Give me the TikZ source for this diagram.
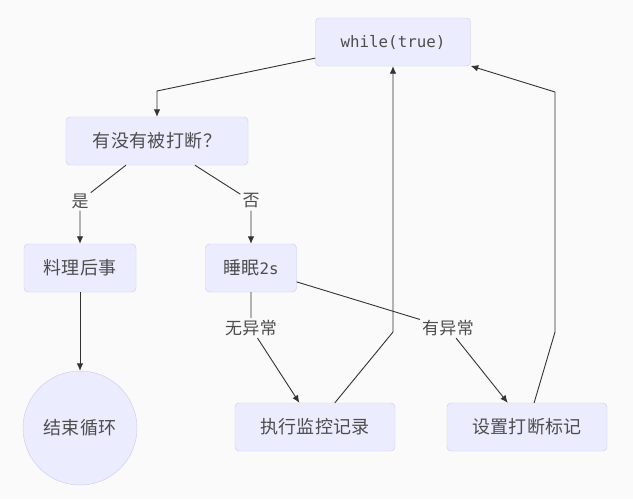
\documentclass[tikz,border=0pt]{standalone}
\usepackage{fontspec}
\setmonofont{DejaVu Sans Mono}
\newfontfamily\cjk{Noto Sans CJK SC}[LetterSpace=2]
\usetikzlibrary{arrows.meta}
\definecolor{boxfill}{HTML}{ECECFF}
\definecolor{boxline}{HTML}{C8C8F2}
\definecolor{ink}{HTML}{333333}
\definecolor{textink}{HTML}{4D4D4D}
\definecolor{paper}{HTML}{FAFAFA}
\newcommand\codetext[1]{{\ttfamily\fontsize{15.8}{18}\selectfont #1}}
\tikzset{
  box/.style={draw=boxline, fill=boxfill, rounded corners=4pt, text=textink,
    font=\cjk\fontsize{18}{21}\selectfont, minimum height=48pt, inner sep=0pt},
  tag/.style={fill=paper, text=textink, font=\cjk\fontsize{17}{20}\selectfont,
    inner sep=2pt},
  flow/.style={draw=ink, line width=0.9pt, -{Latex[length=7.5pt,width=6.5pt]}},
}

\begin{document}
\begin{tikzpicture}[x=1pt,y=-1pt]
\fill[paper] (0,0) rectangle (633,499);
\useasboundingbox (0,0) rectangle (633,499);
% boxes
\node[box, minimum width=155pt] (loop) at (393,42) {\codetext{while(true)}};
\node[box, minimum width=182pt] (ask) at (157,141) {有没有被打断？};
\node[box, minimum width=112pt] (aftermath) at (80,268) {料理后事};
\node[box, minimum width=91pt] (sleep) at (251,268) {睡眠\codetext{2s}};
\node[box, circle, minimum size=114pt] (finish) at (80,428) {结束循环};
\node[box, minimum width=160pt] (record) at (315,427) {执行监控记录};
\node[box, minimum width=160pt] (mark) at (527,427) {设置打断标记};
% edge labels
\node[tag] (yes) at (80,201) {是};
\node[tag] (no) at (251,201) {否};
\node[tag] (ok) at (251,328) {无异常};
\node[tag] (err) at (448,328) {有异常};
% bends
\coordinate (k1) at (157,91);
\coordinate (k2) at (393,332);
\coordinate (k3) at (555,332);
\coordinate (k4) at (555,92);
\draw[flow] (loop) -- (k1) -- (ask);
\draw[flow] (ask) -- (yes) -- (aftermath);
\draw[flow] (ask) -- (no) -- (sleep);
\draw[flow] (aftermath) -- (finish);
\draw[flow] (sleep) -- (ok) -- (record);
\draw[flow] (sleep) -- (err) -- (mark);
\draw[flow] (record) -- (k2) -- (loop);
\draw[flow] (mark) -- (k3) -- (k4) -- (loop);
\end{tikzpicture}
\end{document}
